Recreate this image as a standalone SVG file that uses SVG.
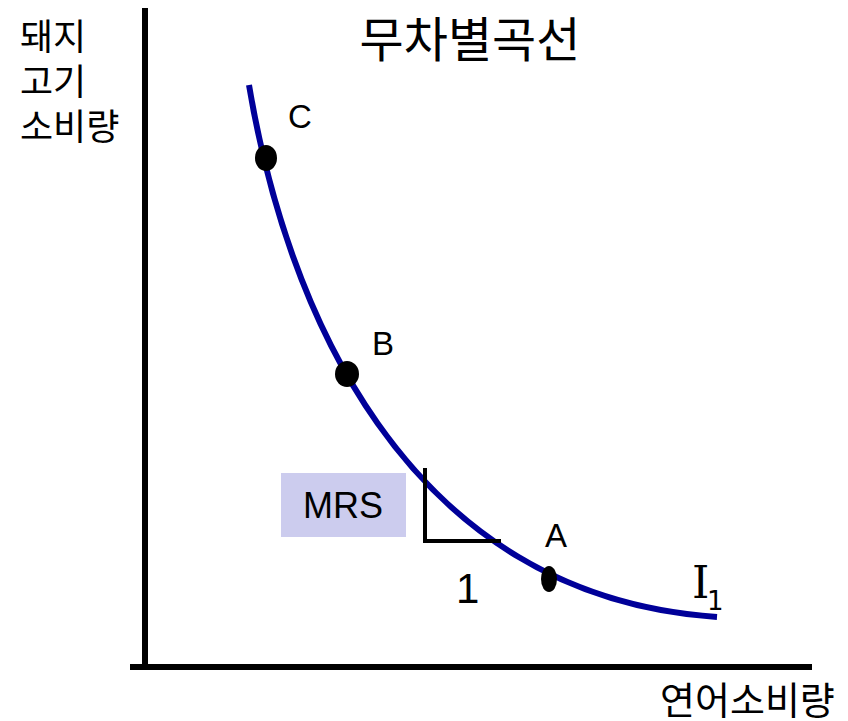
<svg xmlns="http://www.w3.org/2000/svg" width="848" height="721" viewBox="0 0 848 721">
<style>
.kr{font-family:"Noto Sans CJK KR","Noto Sans",sans-serif;fill:#000}
.lb{font-family:"Liberation Sans",Arial,sans-serif;fill:#000}
.axis{stroke:#000;stroke-width:6;fill:none}
.curve{stroke:#000099;stroke-width:6;fill:none}
.dot{fill:#000}
</style>
<rect width="848" height="721" fill="#fff"/>
<g id="axes">
<line class="axis" x1="145" y1="8" x2="145" y2="670"/>
<line class="axis" x1="130" y1="667" x2="812" y2="667"/>
</g>
<g id="title"><text class="kr" x="470" y="57" font-size="48" text-anchor="middle">무차별곡선</text></g>
<g id="ylabel" class="kr" font-size="36">
<text x="20" y="50">돼지</text>
<text x="20" y="95">고기</text>
<text x="20" y="140">소비량</text>
</g>
<g id="xlabel"><text class="kr" x="660" y="714" font-size="38">연어소비량</text></g>
<g id="connectors">
<path id="curve-I1" class="curve" d="M249,85 C285,300 400,595 717,617"/>
<path id="mrs-triangle" d="M425,468 V541 H501" stroke="#000" stroke-width="4" fill="none"/>
</g>
<g id="mrs"><rect x="281" y="473" width="125" height="64" fill="#ccccee"/><text class="lb" x="343" y="518" font-size="36" text-anchor="middle">MRS</text></g>
<g id="one"><text class="lb" x="456" y="603" font-size="42">1</text></g>
<g id="pointC"><ellipse class="dot" cx="266" cy="158" rx="11" ry="13"/><text class="lb" x="288" y="128" font-size="33">C</text></g>
<g id="pointB"><ellipse class="dot" cx="347" cy="374" rx="12" ry="13"/><text class="lb" x="372" y="355" font-size="33">B</text></g>
<g id="pointA"><ellipse class="dot" cx="549" cy="579" rx="8" ry="13"/><text class="lb" x="545" y="547" font-size="33">A</text></g>
<g id="label-I1"><text x="692" y="598" font-family="DejaVu Serif,serif" font-size="44">I</text><text x="707" y="610" font-family="DejaVu Sans,sans-serif" font-size="26">1</text></g>
</svg>
